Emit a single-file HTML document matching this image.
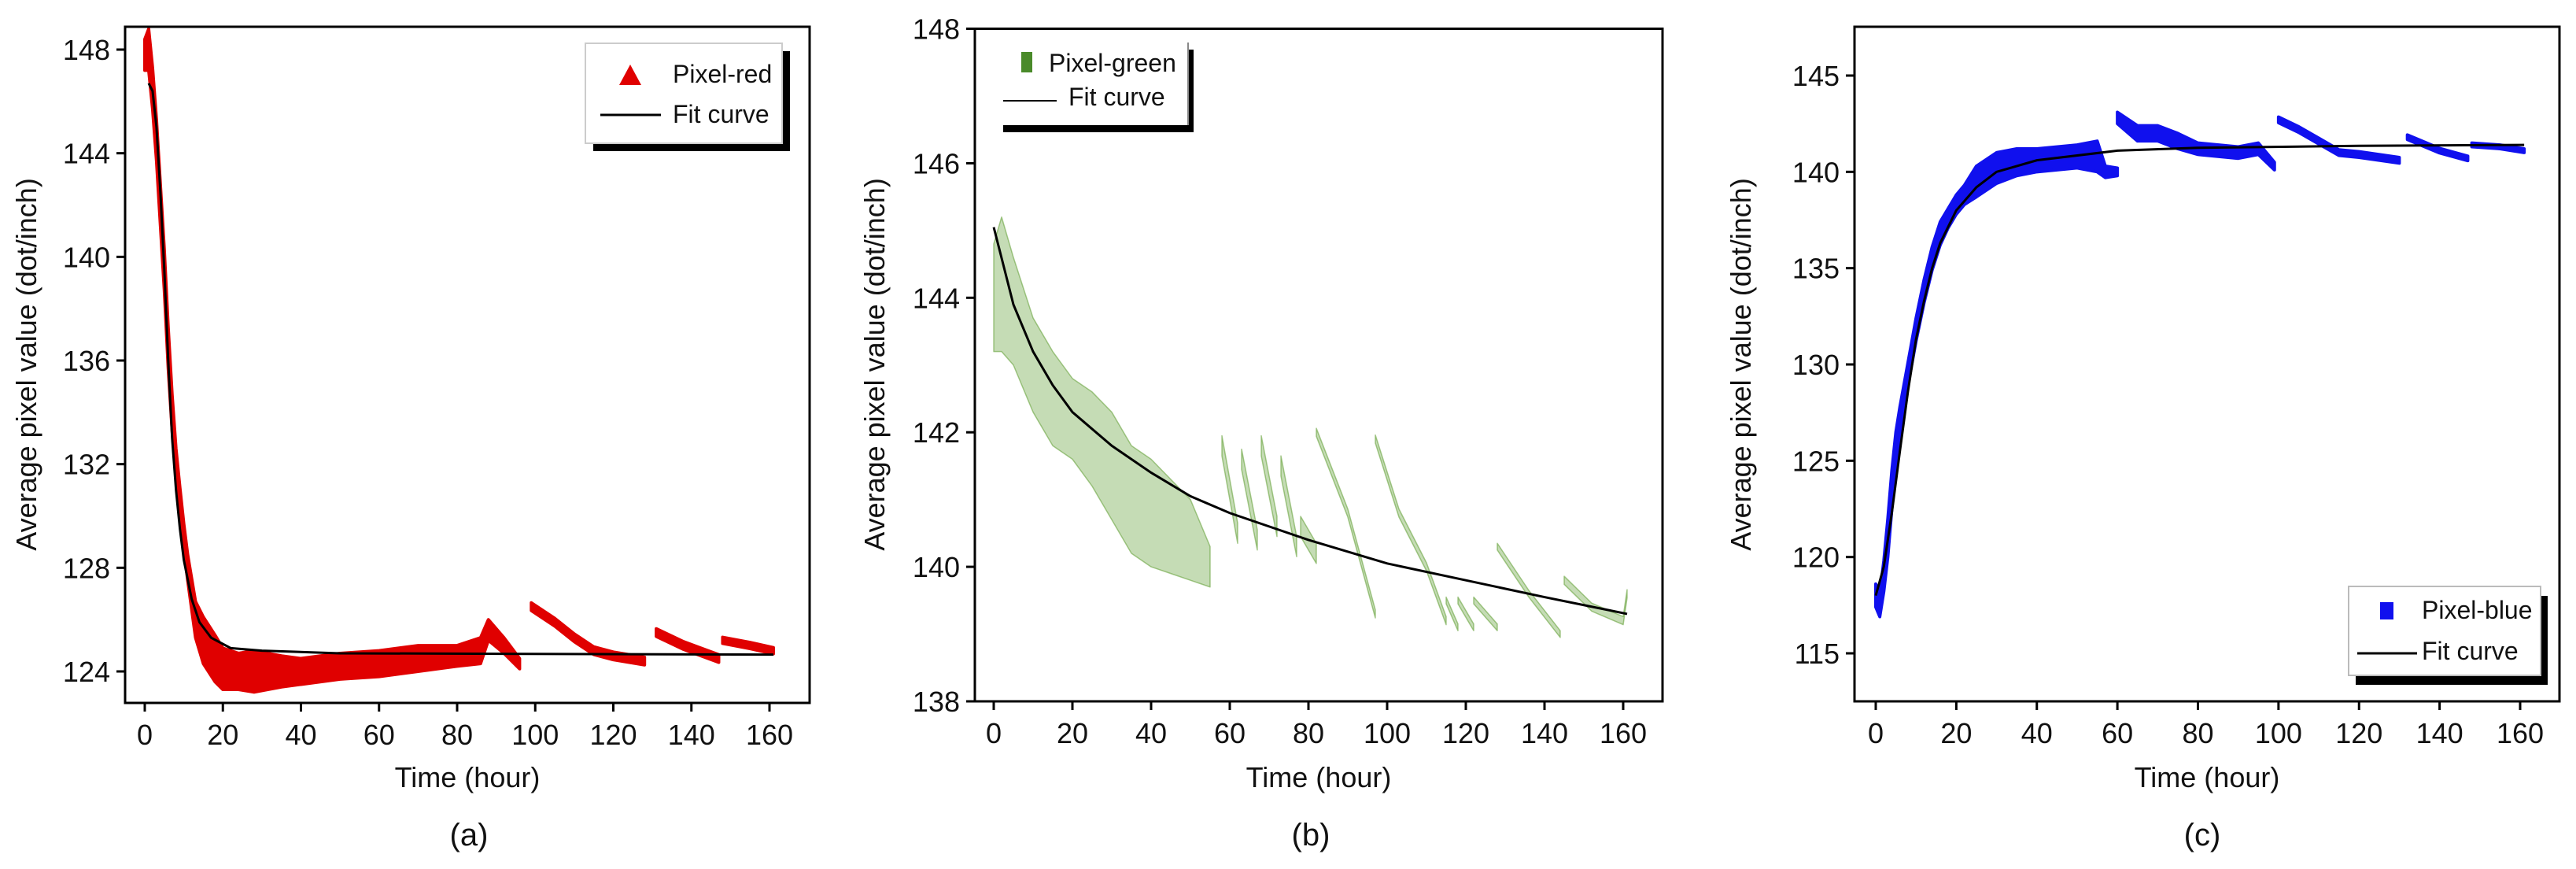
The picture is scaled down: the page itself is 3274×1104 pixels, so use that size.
<!DOCTYPE html>
<html><head><meta charset="utf-8"><style>
html,body{margin:0;padding:0;background:#fff;}
svg{display:block;font-family:"Liberation Sans",Arial,sans-serif;}
</style></head><body>
<svg id="fig" width="3274" height="1104" viewBox="0 0 3274 1104" xmlns="http://www.w3.org/2000/svg"></svg>
<script>
// ---- Panel (a) red ----
const redX = [0,1,2,3,4,5,6,7,8,9,10,11,12,13,15,18,20,24,28,35,40,50,60,70,80,86,88,92,96,null,99,105,110,115,120,128,null,131,138,147,null,148,155,161];
const redY = [147.8,148,146.5,144.5,142,139.5,136.5,134,132,130.5,129.2,128,127,126,125.2,124.5,124.1,124,124,124,124,124.2,124.3,124.5,124.6,124.8,125.6,125,124.3,null,126.5,125.9,125.3,124.8,124.6,124.4,null,125.5,125,124.5,null,125.2,125,124.8];
const redSpread = [0.6,0.8,0.8,0.8,0.8,0.8,0.8,0.7,0.6,0.6,0.5,0.5,0.6,0.7,0.9,0.9,0.8,0.7,0.8,0.6,0.5,0.5,0.5,0.5,0.4,0.5,0.4,0.3,0.2,null,0.15,0.15,0.15,0.15,0.15,0.15,null,0.15,0.15,0.15,null,0.12,0.12,0.12];
const redFitX = [1,2,3,4,5,6,7,8,9,10,12,14,17,22,30,50,161];
const redFitY = [146.7,146.4,145,142.5,139.5,136,133,131,129.5,128.3,126.8,125.9,125.3,124.9,124.8,124.7,124.65];
const redTicksY = [124,128,132,136,140,144,148];
// ---- Panel (b) green ----
const greenX = [0,2,5,10,15,20,25,30,35,40,45,50,55,null,58,62,null,63,67,null,68,72,null,73,77,null,78,82,null,82,90,97,null,97,103,110,115,null,115,118,null,118,122,null,122,128,null,128,136,144,null,145,152,160,161];
const greenY = [144,144.2,143.8,143,142.5,142.2,141.9,141.5,141,140.8,140.6,140.4,140,null,141.8,140.5,null,141.6,140.4,null,141.8,140.6,null,141.5,140.3,null,140.6,140.2,null,142,140.8,139.3,null,141.9,140.8,140,139.2,null,139.5,139.1,null,139.5,139.1,null,139.5,139.1,null,140.3,139.6,139,null,139.8,139.4,139.2,139.6];
const greenSpread = [0.8,1.0,0.8,0.7,0.7,0.6,0.7,0.8,0.8,0.8,0.7,0.6,0.3,null,0.15,0.15,null,0.15,0.15,null,0.15,0.15,null,0.15,0.15,null,0.15,0.15,null,0.06,0.06,0.06,null,0.06,0.06,0.06,0.06,null,0.05,0.05,null,0.05,0.05,null,0.05,0.05,null,0.05,0.05,0.05,null,0.06,0.06,0.06,0.06];
const greenFitX = [0,5,10,15,20,30,40,50,60,80,100,120,140,161];
const greenFitY = [145.05,143.9,143.2,142.7,142.3,141.8,141.4,141.05,140.8,140.4,140.05,139.8,139.55,139.3];
const greenTicksY = [138,140,142,144,146,148];
// ---- Panel (c) blue ----
const blueX = [0,1,2,3,4,5,6,8,10,12,14,16,18,20,22,25,30,35,40,50,55,57,60,null,60,65,70,75,80,90,95,99,null,100,105,110,115,120,130,null,132,140,147,null,148,155,161];
const blueY = [118,117.5,119,121,123.5,125.5,127,129.5,131.8,133.8,135.5,136.8,137.6,138.3,138.8,139.5,140.2,140.5,140.6,140.8,140.8,140,140,null,142.8,142,142,141.6,141.2,141,141.2,140.3,null,142.7,142.2,141.6,141,140.9,140.6,null,141.8,141.1,140.7,null,141.4,141.3,141.1];
const blueSpread = [0.6,0.6,0.8,1,1,1,0.8,0.6,0.6,0.6,0.6,0.6,0.5,0.5,0.5,0.8,0.8,0.7,0.6,0.6,0.8,0.3,0.2,null,0.3,0.4,0.4,0.4,0.3,0.3,0.3,0.2,null,0.15,0.15,0.15,0.15,0.15,0.15,null,0.12,0.12,0.12,null,0.1,0.1,0.1];
const blueFitX = [0,2,4,6,8,10,12,14,16,20,25,30,40,60,80,120,161];
const blueFitY = [118,119.5,122.3,125.5,128.6,131.3,133.3,135,136.3,138,139.2,140,140.6,141.1,141.25,141.35,141.4];
const blueTicksY = [115,120,125,130,135,140,145];
const ticksX = [0,20,40,60,80,100,120,140,160];

const NS='http://www.w3.org/2000/svg';
const svg=document.getElementById('fig');
function mk(tag,attrs,parent){const e=document.createElementNS(NS,tag);for(const k in attrs)e.setAttribute(k,attrs[k]);(parent||svg).appendChild(e);return e;}

function panel(cfg){
  const g=mk('g',{});
  
  
  const sx=v=>cfg.x0+(v-0)*(cfg.x160-cfg.x0)/160;
  const sy=v=>cfg.yA+(v-cfg.vA)*(cfg.yB-cfg.yA)/(cfg.vB-cfg.vA);
  let segs=[[]];
  cfg.dx.forEach((x,i)=>{ if(x===null){segs.push([]);} else segs[segs.length-1].push(i); });
  segs.forEach((s)=>{
    if(!s.length)return;
    let up=s.map(i=>sx(cfg.dx[i])+','+sy(cfg.dy[i]+cfg.ds[i]));
    let lo=s.slice().reverse().map(i=>sx(cfg.dx[i])+','+sy(cfg.dy[i]-cfg.ds[i]));
    const p=mk('polygon',{points:up.concat(lo).join(' '),fill:cfg.color,'fill-opacity':cfg.op,stroke:cfg.color,'stroke-width':cfg.sw,'stroke-linejoin':'round','stroke-opacity':Math.min(1,cfg.op*1.5)},g);
    
    
  });
  const fit=mk('polyline',{points:cfg.fx.map((x,i)=>sx(x)+','+sy(cfg.fy[i])).join(' '),fill:'none',stroke:'#000','stroke-width':3},g);
  
  
  const fr=mk('rect',{x:cfg.bx0,y:cfg.by0,width:cfg.bx1-cfg.bx0,height:cfg.by1-cfg.by0,fill:'none',stroke:'#000','stroke-width':3},g);
  
  
  ticksX.forEach(t=>{
    mk('line',{x1:sx(t),x2:sx(t),y1:cfg.by1,y2:cfg.by1+11,stroke:'#000','stroke-width':3},g);
    const tx=mk('text',{x:sx(t),y:cfg.by1+53,'font-size':36,'text-anchor':'middle',fill:'#111'},g);
    tx.textContent=t;
    
    
  });
  cfg.ty.forEach(t=>{
    mk('line',{x1:cfg.bx0,x2:cfg.bx0-11,y1:sy(t),y2:sy(t),stroke:'#000','stroke-width':3},g);
    const tx=mk('text',{x:cfg.bx0-19,y:sy(t)+13,'font-size':36,'text-anchor':'end',fill:'#111'},g);
    tx.textContent=t;
    
    
  });
  const xt=mk('text',{x:(cfg.bx0+cfg.bx1)/2,y:1000,'font-size':36,'text-anchor':'middle',fill:'#111'},g);
  xt.textContent='Time (hour)';
  
  
  const yt=mk('text',{x:0,y:0,'font-size':36,'text-anchor':'middle',fill:'#111',transform:`translate(${cfg.ytx},463) rotate(-90)`},g);
  yt.textContent='Average pixel value (dot/inch)';
  
  
  const cap=mk('text',{x:cfg.capx,y:1074,'font-size':40,'text-anchor':'middle',fill:'#111'},g);
  cap.textContent='('+cfg.id+')';
  
  
  return g;
}

panel({id:'a',x0:184,x160:978,yA:63,vA:148,yB:853,vB:124,bx0:159,bx1:1029,by0:34,by1:893,
  dx:redX,dy:redY,ds:redSpread,fx:redFitX,fy:redFitY,ty:redTicksY,color:'#e00000',op:1,sw:4,ytx:46,capx:596});
panel({id:'b',x0:1263,x160:2063,yA:36.5,vA:148,yB:891,vB:138,bx0:1239,bx1:2113,by0:36.5,by1:891,
  dx:greenX,dy:greenY,ds:greenSpread,fx:greenFitX,fy:greenFitY,ty:greenTicksY,color:'#5a9a2a',op:0.35,sw:1.5,ytx:1124,capx:1666});
panel({id:'c',x0:2384,x160:3203,yA:96,vA:145,yB:830,vB:115,bx0:2357,bx1:3253,by0:34,by1:891,
  dx:blueX,dy:blueY,ds:blueSpread,fx:blueFitX,fy:blueFitY,ty:blueTicksY,color:'#1010ee',op:1,sw:4,ytx:2225,capx:2799});
</script>
<svg style="position:absolute;left:0;top:0" width="3274" height="1104">
  <g>
    <rect x="754" y="65" width="250" height="127" fill="#000"/>
    <rect x="744" y="55" width="250" height="127" fill="#fff" stroke="#ccc" stroke-width="2"/>
    <polygon points="787,108 801,82 815,108" fill="#e00000"/>
    <text x="855" y="105" font-size="32" font-family="Liberation Sans, sans-serif" fill="#111">Pixel-red</text>
    <line x1="763" y1="146" x2="840" y2="146" stroke="#000" stroke-width="3"/>
    <text x="855" y="156" font-size="32" font-family="Liberation Sans, sans-serif" fill="#111">Fit curve</text>
  </g>
  <g>
    <rect x="1275" y="63" width="242" height="105" fill="#000"/>
    <rect x="1268" y="54" width="242" height="105" fill="#fff"/>
    <line x1="1510" y1="54" x2="1510" y2="159" stroke="#888" stroke-width="2"/>
    <rect x="1298" y="66" width="14" height="26" fill="#4a8a2a"/>
    <text x="1333" y="91" font-size="32" font-family="Liberation Sans, sans-serif" fill="#111">Pixel-green</text>
    <line x1="1275" y1="128" x2="1343" y2="128" stroke="#000" stroke-width="2"/>
    <text x="1358" y="134" font-size="32" font-family="Liberation Sans, sans-serif" fill="#111">Fit curve</text>
  </g>
  <g>
    <rect x="2994" y="757" width="244" height="113" fill="#000"/>
    <rect x="2985" y="745" width="244" height="113" fill="#fff" stroke="#bbb" stroke-width="2"/>
    <rect x="3025" y="765" width="17" height="22" fill="#1010ee"/>
    <text x="3078" y="786" font-size="32" font-family="Liberation Sans, sans-serif" fill="#111">Pixel-blue</text>
    <line x1="2996" y1="830" x2="3072" y2="830" stroke="#000" stroke-width="3"/>
    <text x="3078" y="838" font-size="32" font-family="Liberation Sans, sans-serif" fill="#111">Fit curve</text>
  </g>
</svg>
</body></html>
